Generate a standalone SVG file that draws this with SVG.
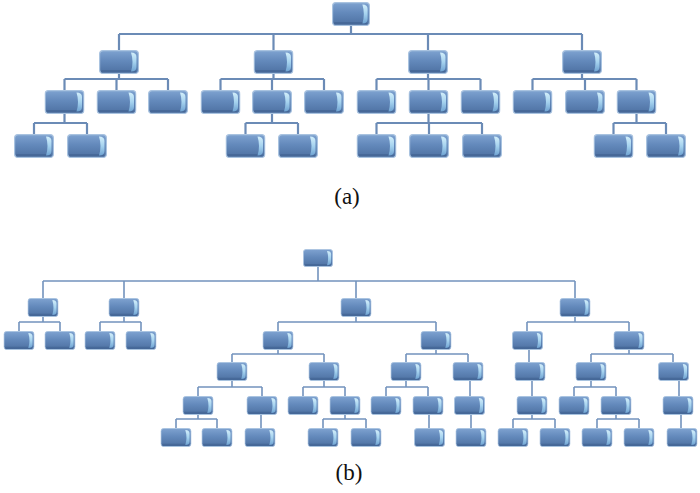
<svg xmlns="http://www.w3.org/2000/svg" width="700" height="493" viewBox="0 0 700 493">
<defs>
<linearGradient id="face" x1="0" y1="0" x2="0" y2="1">
<stop offset="0" stop-color="#7ea2d0"/>
<stop offset="0.45" stop-color="#6389bb"/>
<stop offset="1" stop-color="#4d70a1"/>
</linearGradient>
<linearGradient id="bevel" x1="0" y1="0" x2="0" y2="1">
<stop offset="0" stop-color="#d2eefa"/>
<stop offset="0.5" stop-color="#a6d3ef"/>
<stop offset="1" stop-color="#6fa3d2"/>
</linearGradient>
<symbol id="box" viewBox="0 0 40 24" preserveAspectRatio="none">
<rect x="0.6" y="0.6" width="38.8" height="22.8" rx="3.5" fill="url(#face)" stroke="#a9c3e0" stroke-width="1.2"/>
<rect x="2" y="20" width="35" height="2.6" rx="1.2" fill="#3e5f8e" opacity="0.55"/>
<path d="M32,2.5 Q37.5,2.5 37.5,7 V17 Q37.5,21.5 32,21.5 Q35,12 32,2.5 Z" fill="url(#bevel)"/>
</symbol>
</defs>
<style>
.ca{fill:none;stroke:#6b8bb6;stroke-width:2.2}
.cb{fill:none;stroke:#7393bd;stroke-width:1.6}
.lbl{font-family:"Liberation Serif","Times New Roman",serif;font-size:23px;fill:#111;text-anchor:middle}
</style>
<g id="connectors">
<path class="ca" d="M351,26V34 M119,34H582 M119,34V50 M273.5,34V50 M428,34V50 M582,34V50
M119,74V79 M64.5,79H168 M64.5,79V90 M116.5,79V90 M168,79V90
M273.5,74V79 M220.5,79H324 M220.5,79V90 M272,79V90 M324,79V90
M428,74V79 M376.5,79H480.5 M376.5,79V90 M428.5,79V90 M480.5,79V90
M582,74V79 M532.5,79H636.5 M532.5,79V90 M585,79V90 M636.5,79V90
M64.5,114V123 M34,123H87 M34,123V134 M87,123V134
M272,114V123 M245.5,123H298 M245.5,123V134 M298,123V134
M428.5,114V123 M376.5,123H482 M376.5,123V134 M429,123V134 M482,123V134
M636.5,114V123 M613.5,123H666 M613.5,123V134 M666,123V134"/>
<path class="cb" d="M318,267V281 M43,281H575 M43,281V298 M124,281V298 M356,281V298 M575,281V298
M43,317V322 M19,322H60 M19,322V331 M60,322V331
M124,317V322 M100,322H141 M100,322V331 M141,322V331
M356,317V322 M278,322H436 M278,322V331 M436,322V331
M575,317V322 M527,322H629 M527,322V331 M629,322V331
M278,350V354 M232,354H324 M232,354V362 M324,354V362
M436,350V354 M406,354H468 M406,354V362 M468,354V362
M529,350V362
M629,350V354 M591,354H673 M591,354V362 M673,354V362
M232,381V387 M198,387H262 M198,387V396 M262,387V396
M324,381V387 M303,387H345 M303,387V396 M345,387V396
M406,381V387 M386,387H428 M386,387V396 M428,387V396
M470,381V396
M532,381V396
M591,381V387 M574,387H616 M574,387V396 M616,387V396
M679,381V396
M198,415V419 M176,419H217 M176,419V428 M217,419V428
M261,415V428
M345,415V419 M323,419H366 M323,419V428 M366,419V428
M429,415V428
M471,415V428
M532,415V419 M513,419H555 M513,419V428 M555,419V428
M616,415V419 M597,419H639 M597,419V428 M639,419V428
M681,415V428"/>
</g>
<g id="a-root"><use href="#box" x="332" y="2" width="38" height="24"/></g>
<g id="a-1-1"><use href="#box" x="99" y="50" width="40" height="24"/></g>
<g id="a-1-2"><use href="#box" x="253.5" y="50" width="40" height="24"/></g>
<g id="a-1-3"><use href="#box" x="408" y="50" width="40" height="24"/></g>
<g id="a-1-4"><use href="#box" x="562" y="50" width="40" height="24"/></g>
<g id="a-2-1"><use href="#box" x="44.5" y="90" width="40" height="24"/></g>
<g id="a-2-2"><use href="#box" x="96.5" y="90" width="40" height="24"/></g>
<g id="a-2-3"><use href="#box" x="148" y="90" width="40" height="24"/></g>
<g id="a-2-4"><use href="#box" x="200.5" y="90" width="40" height="24"/></g>
<g id="a-2-5"><use href="#box" x="252" y="90" width="40" height="24"/></g>
<g id="a-2-6"><use href="#box" x="304" y="90" width="40" height="24"/></g>
<g id="a-2-7"><use href="#box" x="356.5" y="90" width="40" height="24"/></g>
<g id="a-2-8"><use href="#box" x="408.5" y="90" width="40" height="24"/></g>
<g id="a-2-9"><use href="#box" x="460.5" y="90" width="40" height="24"/></g>
<g id="a-2-10"><use href="#box" x="512.5" y="90" width="40" height="24"/></g>
<g id="a-2-11"><use href="#box" x="565" y="90" width="40" height="24"/></g>
<g id="a-2-12"><use href="#box" x="616.5" y="90" width="40" height="24"/></g>
<g id="a-3-1"><use href="#box" x="14" y="134" width="40" height="24"/></g>
<g id="a-3-2"><use href="#box" x="67" y="134" width="40" height="24"/></g>
<g id="a-3-3"><use href="#box" x="225.5" y="134" width="40" height="24"/></g>
<g id="a-3-4"><use href="#box" x="278" y="134" width="40" height="24"/></g>
<g id="a-3-5"><use href="#box" x="356.5" y="134" width="40" height="24"/></g>
<g id="a-3-6"><use href="#box" x="409" y="134" width="40" height="24"/></g>
<g id="a-3-7"><use href="#box" x="462" y="134" width="40" height="24"/></g>
<g id="a-3-8"><use href="#box" x="593.5" y="134" width="40" height="24"/></g>
<g id="a-3-9"><use href="#box" x="646" y="134" width="40" height="24"/></g>
<text class="lbl" x="347" y="204">(a)</text>
<g id="b-root"><use href="#box" x="303" y="249" width="30" height="18"/></g>
<g id="b-1-1"><use href="#box" x="27.5" y="298" width="31" height="19"/></g>
<g id="b-1-2"><use href="#box" x="108.5" y="298" width="31" height="19"/></g>
<g id="b-1-3"><use href="#box" x="340.5" y="298" width="31" height="19"/></g>
<g id="b-1-4"><use href="#box" x="559.5" y="298" width="31" height="19"/></g>
<g id="b-2-1"><use href="#box" x="3.5" y="331" width="31" height="19"/></g>
<g id="b-2-2"><use href="#box" x="44.5" y="331" width="31" height="19"/></g>
<g id="b-2-3"><use href="#box" x="84.5" y="331" width="31" height="19"/></g>
<g id="b-2-4"><use href="#box" x="125.5" y="331" width="31" height="19"/></g>
<g id="b-2-5"><use href="#box" x="262.5" y="331" width="31" height="19"/></g>
<g id="b-2-6"><use href="#box" x="420.5" y="331" width="31" height="19"/></g>
<g id="b-2-7"><use href="#box" x="512" y="331" width="31" height="19"/></g>
<g id="b-2-8"><use href="#box" x="613.5" y="331" width="31" height="19"/></g>
<g id="b-3-1"><use href="#box" x="216.5" y="362" width="31" height="19"/></g>
<g id="b-3-2"><use href="#box" x="308.5" y="362" width="31" height="19"/></g>
<g id="b-3-3"><use href="#box" x="390.5" y="362" width="31" height="19"/></g>
<g id="b-3-4"><use href="#box" x="452.5" y="362" width="31" height="19"/></g>
<g id="b-3-5"><use href="#box" x="514.5" y="362" width="31" height="19"/></g>
<g id="b-3-6"><use href="#box" x="575.5" y="362" width="31" height="19"/></g>
<g id="b-3-7"><use href="#box" x="658" y="362" width="31" height="19"/></g>
<g id="b-4-1"><use href="#box" x="182.5" y="396" width="31" height="19"/></g>
<g id="b-4-2"><use href="#box" x="246.5" y="396" width="31" height="19"/></g>
<g id="b-4-3"><use href="#box" x="287.5" y="396" width="31" height="19"/></g>
<g id="b-4-4"><use href="#box" x="329.5" y="396" width="31" height="19"/></g>
<g id="b-4-5"><use href="#box" x="370.5" y="396" width="31" height="19"/></g>
<g id="b-4-6"><use href="#box" x="412.5" y="396" width="31" height="19"/></g>
<g id="b-4-7"><use href="#box" x="454" y="396" width="31" height="19"/></g>
<g id="b-4-8"><use href="#box" x="516.5" y="396" width="31" height="19"/></g>
<g id="b-4-9"><use href="#box" x="558.5" y="396" width="31" height="19"/></g>
<g id="b-4-10"><use href="#box" x="600.5" y="396" width="31" height="19"/></g>
<g id="b-4-11"><use href="#box" x="662.5" y="396" width="31" height="19"/></g>
<g id="b-5-1"><use href="#box" x="160.5" y="428" width="31" height="19"/></g>
<g id="b-5-2"><use href="#box" x="201.5" y="428" width="31" height="19"/></g>
<g id="b-5-3"><use href="#box" x="244.5" y="428" width="31" height="19"/></g>
<g id="b-5-4"><use href="#box" x="307.5" y="428" width="31" height="19"/></g>
<g id="b-5-5"><use href="#box" x="350.5" y="428" width="31" height="19"/></g>
<g id="b-5-6"><use href="#box" x="414" y="428" width="31" height="19"/></g>
<g id="b-5-7"><use href="#box" x="455.5" y="428" width="31" height="19"/></g>
<g id="b-5-8"><use href="#box" x="497.5" y="428" width="31" height="19"/></g>
<g id="b-5-9"><use href="#box" x="539.5" y="428" width="31" height="19"/></g>
<g id="b-5-10"><use href="#box" x="581.5" y="428" width="31" height="19"/></g>
<g id="b-5-11"><use href="#box" x="623.5" y="428" width="31" height="19"/></g>
<g id="b-5-12"><use href="#box" x="666.5" y="428" width="31" height="19"/></g>
<text class="lbl" x="349" y="480">(b)</text>
</svg>
